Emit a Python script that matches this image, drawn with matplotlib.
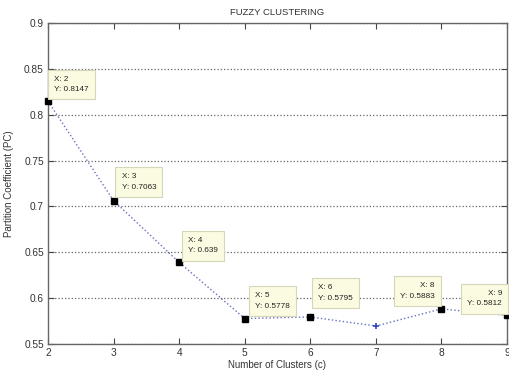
import matplotlib.pyplot as plt

plt.rcParams['font.family'] = ['Liberation Sans', 'DejaVu Sans']

# partition coefficient for each cluster count
clusters = [2, 3, 4, 5, 6, 7, 8, 9]
pc = [0.8147, 0.7063, 0.639, 0.5778, 0.5795, 0.5696, 0.5883, 0.5812]

# data tips: cluster count, offset of box corner (px), side
tips = [
    (2, (1, 2), 'left'),
    (3, (3, 4), 'left'),
    (4, (4, 2), 'left'),
    (5, (5, 3), 'left'),
    (6, (3, 9), 'left'),
    (8, (-2, 3), 'right'),
    (9, (0, 2), 'right'),
]

fig = plt.figure(figsize=(5.09, 3.73), dpi=100)
ax = fig.add_axes([48 / 509, 29 / 373, 459 / 509, 321 / 373])

ax.plot(clusters, pc, color='#6670c0', linestyle=':', linewidth=1.0,
        marker='+', markersize=5, markeredgewidth=1.2, markeredgecolor='#3040c0',
        clip_on=False, zorder=3)

ax.set_xlim(2, 9)
ax.set_ylim(0.55, 0.9)
ax.set_xticks(clusters)
ax.set_yticks([0.55, 0.6, 0.65, 0.7, 0.75, 0.8, 0.85, 0.9])
ax.set_yticklabels(['0.55', '0.6', '0.65', '0.7', '0.75', '0.8', '0.85', '0.9'])
ax.yaxis.grid(True, linestyle=':', color='#666666', linewidth=0.9)
ax.tick_params(direction='in', top=True, right=True, length=4, width=0.8,
               labelsize=7.3, colors='#444444', labelcolor='#333333', pad=3)
for s in ax.spines.values():
    s.set_color('#666666')
    s.set_linewidth(1.0)

ax.set_title('FUZZY CLUSTERING', fontsize=6.8, color='#333333', pad=6)
ax.set_xlabel('Number of Clusters (c)', fontsize=7, color='#333333', labelpad=1)
ax.set_ylabel('Partition Coefficient (PC)', fontsize=7, color='#333333', labelpad=7)

for c, (dx, dy), side in tips:
    y = pc[clusters.index(c)]
    ax.plot(c, y, marker='s', color='black', markersize=4.5, linestyle='none',
            clip_on=False, zorder=4)
    ax.annotate('X: %d\nY: %s' % (c, ('%.4f' % y).rstrip('0')), xy=(c, y),
                xytext=(dx + (5 if side == 'left' else -5), dy + 6),
                textcoords='offset pixels', ha=side, va='bottom',
                multialignment=side, fontsize=5.9, linespacing=1.7,
                color='#222222', annotation_clip=False, zorder=5,
                bbox=dict(boxstyle='square,pad=0.75', facecolor='#fbfbe2',
                          edgecolor='#d6d6b8', linewidth=0.8))

fig.savefig('out.png', dpi=100)
